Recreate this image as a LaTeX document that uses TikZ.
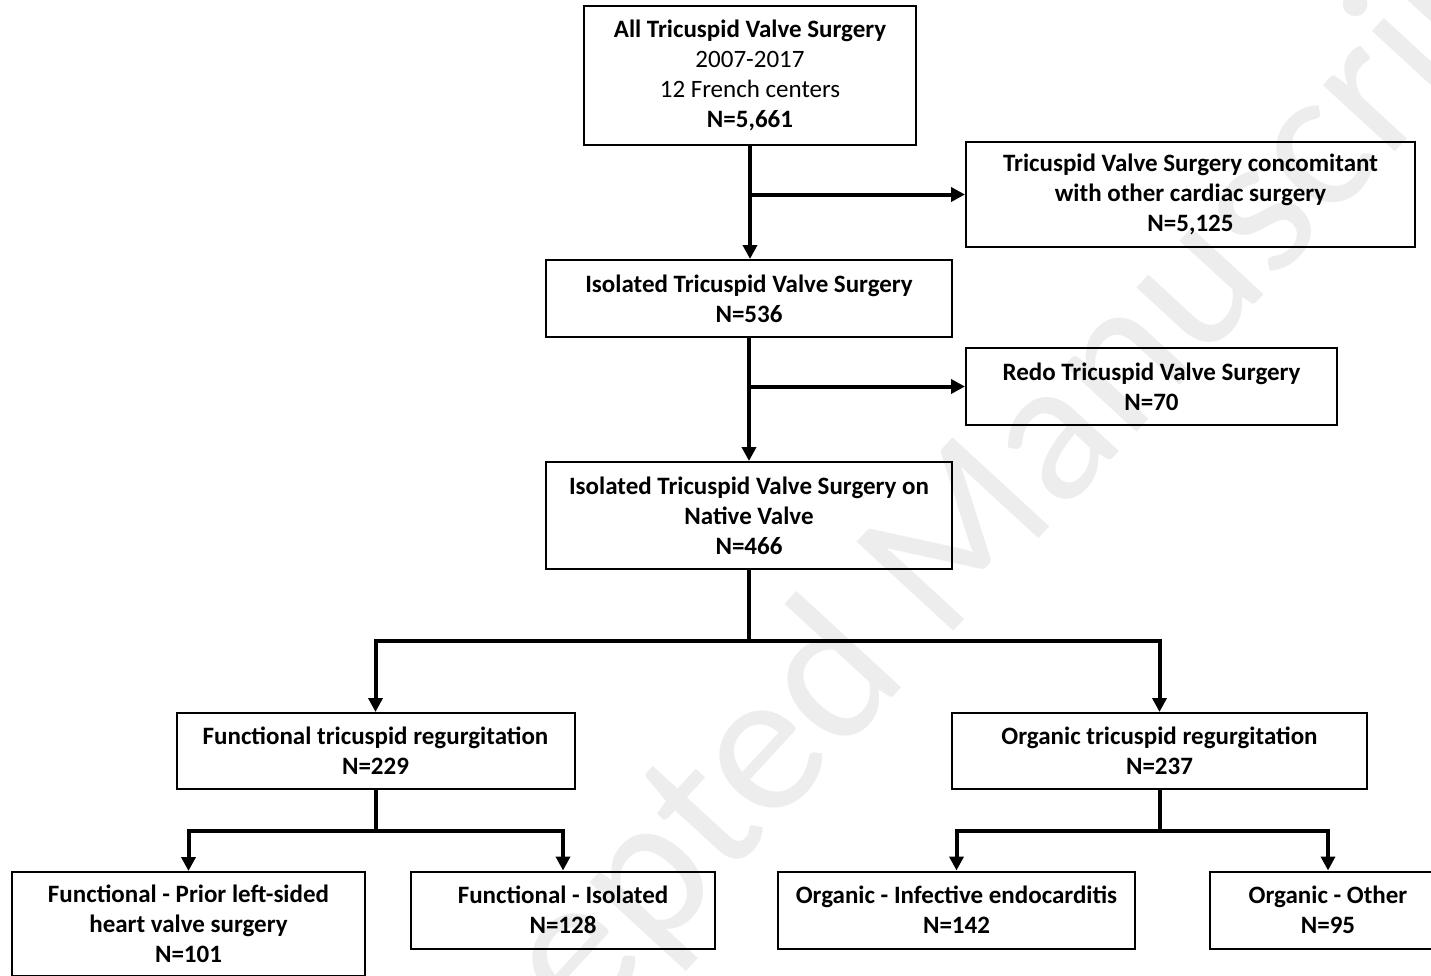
\documentclass[tikz,border=0pt]{standalone}
\usepackage{fontspec}
\setmainfont{Carlito}
\usetikzlibrary{arrows.meta}
\begin{document}
\begin{tikzpicture}[x=1pt,y=-1pt,
  box/.style={draw=black, line width=2pt, inner sep=0pt, align=center,
    font=\fontsize{25}{30}\selectfont\bfseries},
  conn/.style={line width=4pt, -{Triangle[length=14pt,width=14pt]}},
  trunk/.style={line width=4pt},
  wmark/.style={text=black!7, font=\fontsize{205}{205}\selectfont}]
\useasboundingbox (0,0) rectangle (1431,975);
\clip (0,0) rectangle (1431,975);
\fill[white] (0,0) rectangle (1431,975);
\node[wmark, rotate=47.4] (wm) at (945,560) {Accepted Manuscript};

\node[box, minimum width=332pt, minimum height=139pt] (b1) at (750,75.5)
  {All Tricuspid Valve Surgery\\ {\mdseries 2007-2017}\\ {\mdseries 12 French centers}\\ N=5,661};
\node[box, minimum width=449pt, minimum height=105pt] (b2) at (1190.5,194.5)
  {Tricuspid Valve Surgery concomitant\\ with other cardiac surgery\\ N=5,125};
\node[box, minimum width=406pt, minimum height=77pt] (b3) at (749,298.5)
  {Isolated Tricuspid Valve Surgery\\ N=536};
\node[box, minimum width=371pt, minimum height=77pt] (b4) at (1151.5,386.5)
  {Redo Tricuspid Valve Surgery\\ N=70};
\node[box, minimum width=406pt, minimum height=107pt] (b5) at (749,515.5)
  {Isolated Tricuspid Valve Surgery on\\ Native Valve\\ N=466};
\node[box, minimum width=398pt, minimum height=76pt] (b6) at (375.5,751)
  {Functional tricuspid regurgitation\\ N=229};
\node[box, minimum width=415pt, minimum height=76pt] (b7) at (1159.5,751)
  {Organic tricuspid regurgitation\\ N=237};
\node[box, minimum width=353pt, minimum height=104pt] (b8) at (188.5,924)
  {Functional - Prior left-sided\\ heart valve surgery\\ N=101};
\node[box, minimum width=304pt, minimum height=77pt] (b9) at (563,910)
  {Functional - Isolated\\ N=128};
\node[box, minimum width=357pt, minimum height=77pt] (b10) at (956.5,910)
  {Organic - Infective endocarditis\\ N=142};
\node[box, minimum width=236pt, minimum height=77pt] (b11) at (1328,910)
  {Organic - Other\\ N=95};

\draw[conn] (b1.south) -- (b1.south |- b3.north);
\draw[conn] (b1.south |- b2.west) -- (b2.west);
\draw[conn] (b3.south) -- (b3.south |- b5.north);
\draw[conn] (b3.south |- b4.west) -- (b4.west);

\coordinate (j5) at (750,641);
\draw[trunk] (b5.south) -- (b5.south |- j5);
\draw[conn] (b5.south |- j5) -| (b6.north);
\draw[conn] (b5.south |- j5) -| (b7.north);

\coordinate (j6) at (375.5,831);
\draw[trunk] (b6.south) -- (b6.south |- j6);
\draw[conn] (b6.south |- j6) -| (b8.north);
\draw[conn] (b6.south |- j6) -| (b9.north);

\coordinate (j7) at (1159.5,831);
\draw[trunk] (b7.south) -- (b7.south |- j7);
\draw[conn] (b7.south |- j7) -| (b10.north);
\draw[conn] (b7.south |- j7) -| (b11.north);
\end{tikzpicture}
\end{document}
